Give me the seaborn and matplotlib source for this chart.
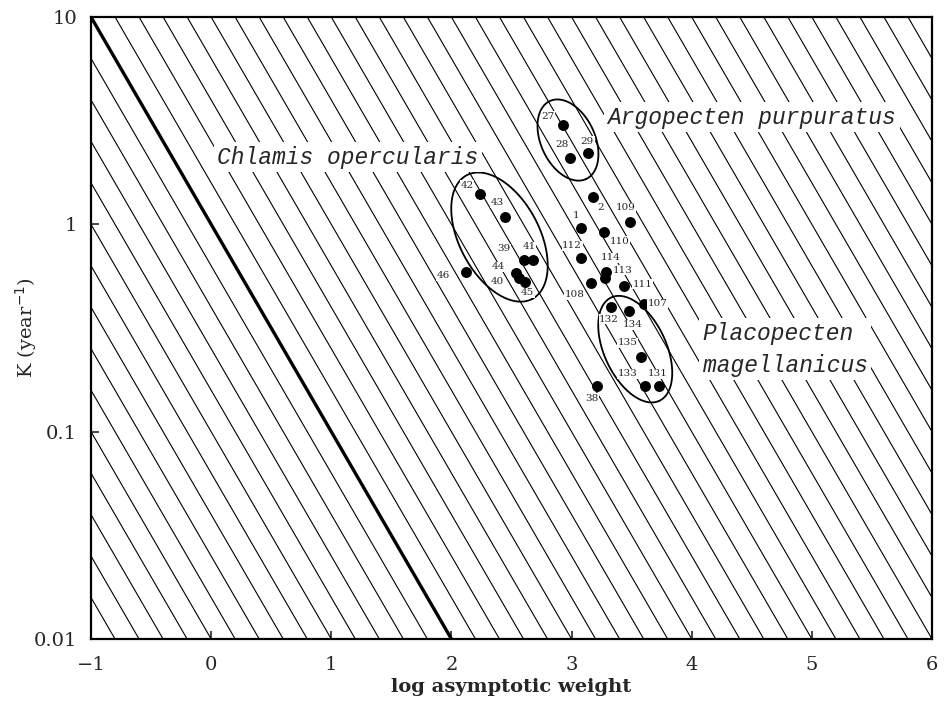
import numpy as np
import pandas as pd
import matplotlib
matplotlib.use("Agg")
import matplotlib.pyplot as plt
import seaborn as sns

# Stock identifiers, log asymptotic weight and growth constant K (1/year)
stock_ids = ["42", "43", "39", "41", "44", "40", "45", "46",
             "27", "28", "29", "2", "109", "1", "110", "112", "114", "113", "108", "111",
             "132", "134", "107", "135", "133", "131", "38"]
log_winf = [2.24, 2.45, 2.60, 2.68, 2.54, 2.56, 2.61, 2.12,
            2.93, 2.99, 3.14, 3.18, 3.49, 3.08, 3.27, 3.08, 3.29, 3.28, 3.16, 3.44,
            3.33, 3.48, 3.60, 3.58, 3.61, 3.73, 3.21]
k_year = [1.40, 1.09, 0.673, 0.673, 0.584, 0.553, 0.528, 0.590,
          3.01, 2.08, 2.20, 1.36, 1.03, 0.956, 0.915, 0.690, 0.590, 0.549, 0.523, 0.504,
          0.398, 0.383, 0.413, 0.230, 0.1665, 0.1665, 0.166]

# Species groups: label text, ellipse centre (log W, K)
species_names = ["Chlamis opercularis", "Argopecten purpuratus", "Placopecten\nmagellanicus"]
group_center_w = [2.40, 2.97, 3.53]
group_center_k = [0.868, 2.55, 0.250]

# Isopleths of log K + log W (the heavy one is 0)
iso_levels = np.round(np.arange(-2.8, 7.01, 0.2), 1)
heavy_level = 0.0

df = pd.DataFrame({"stock": stock_ids, "logW": log_winf, "K": k_year})

# label placement (pixel offsets from each point)
label_offsets = {
    "42": (-13, 9), "43": (-8, 14), "39": (-20, 11), "41": (-4, 13), "44": (-18, 6),
    "40": (-21, -4), "45": (3, -11), "46": (-23, -4),
    "27": (-15, 9), "28": (-8, 14), "29": (-1, 12), "2": (7, -11), "109": (-5, 14),
    "1": (-5, 13), "110": (16, -9), "112": (-9, 12), "114": (4, 14), "113": (18, 8),
    "108": (-16, -12), "111": (18, 2),
    "132": (-2, -12), "134": (3, -14), "107": (14, 0), "135": (-14, 14),
    "133": (-17, 12), "131": (-2, 12), "38": (-5, -12),
}
# ellipse geometry in pixels: semi-major, semi-minor, tilt (deg, clockwise)
ellipse_geom = [(70, 40, 62), (43, 27, 65), (57, 31, 65)]
name_pos = [(0.05, 2.11, "left"), (3.30, 3.29, "left"), (4.09, 0.25, "left")]

sns.set_style("ticks")
plt.rcParams["font.family"] = ["DejaVu Serif"]

fig = plt.figure(figsize=(9.46, 7.12), dpi=100)
ax = fig.add_axes([91 / 946, 1 - 639 / 712, (932 - 91) / 946, (639 - 17) / 712])
ax.set_yscale("log")
ax.set_xlim(-1, 6)
ax.set_ylim(0.01, 10)

xs = np.array([-1.0, 6.0])
for lev in iso_levels:
    if abs(lev - heavy_level) < 1e-9:
        continue
    ax.plot(xs, 10 ** (lev - xs), color="black", lw=0.8, zorder=1)
ax.plot(xs, 10 ** (heavy_level - xs), color="black", lw=2.4, zorder=2)

sns.scatterplot(data=df, x="logW", y="K", ax=ax, color="black", s=62,
                edgecolor="black", linewidth=0, zorder=4, legend=False)

for sid, w, k in zip(stock_ids, log_winf, k_year):
    dx, dy = label_offsets[sid]
    ax.annotate(sid, (w, k), xytext=(dx, dy), textcoords="offset pixels",
                ha="center", va="center", fontsize=7.5, zorder=5,
                bbox=dict(boxstyle="square,pad=0.05", fc="white", ec="none"))

fig.canvas.draw()
phi = np.linspace(0, 2 * np.pi, 300)
for (a, b, tilt), cw, ck in zip(ellipse_geom, group_center_w, group_center_k):
    cx, cy = ax.transData.transform((cw, ck))
    t = np.deg2rad(tilt)
    px = cx + a * np.cos(phi) * np.cos(t) + b * np.sin(phi) * np.sin(t)
    py = cy - a * np.cos(phi) * np.sin(t) + b * np.sin(phi) * np.cos(t)
    pts = ax.transData.inverted().transform(np.column_stack([px, py]))
    ax.plot(pts[:, 0], pts[:, 1], color="black", lw=1.3, zorder=3)

for name, (nx, ny, ha) in zip(species_names, name_pos):
    ax.text(nx, ny, name, ha=ha, va="center", fontsize=16.5, style="italic",
            family=["Liberation Mono", "DejaVu Sans Mono"], linespacing=1.5,
            zorder=6, bbox=dict(boxstyle="square,pad=0.15", fc="white", ec="none"))

ax.set_xticks(range(-1, 7))
ax.set_xticklabels(["\u22121", "0", "1", "2", "3", "4", "5", "6"])
ax.set_yticks([0.01, 0.1, 1, 10])
ax.set_yticklabels(["0.01", "0.1", "1", "10"])
ax.minorticks_off()
ax.tick_params(axis="both", direction="in", length=6, width=1.2, labelsize=14, pad=10)
ax.tick_params(axis="x", pad=12)

ax.set_xlabel("log asymptotic weight", fontsize=14, fontweight="bold", labelpad=3)
ax.set_ylabel("K (year$^{-1}$)", fontsize=14)
ax.yaxis.set_label_coords(-0.062, 0.5)

for sp in ax.spines.values():
    sp.set_linewidth(1.6)
    sp.set_color("black")

fig.savefig("out.png", dpi=100)
